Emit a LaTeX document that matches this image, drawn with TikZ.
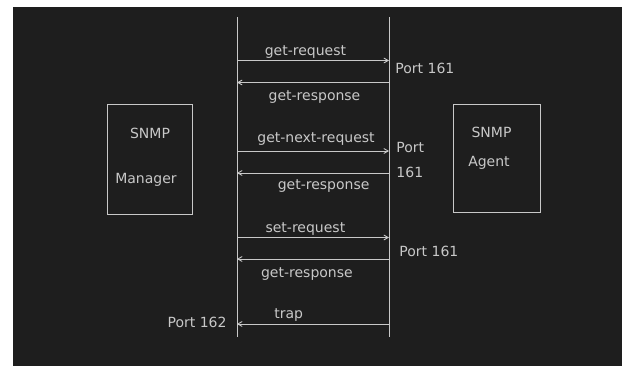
\documentclass[tikz,border=0pt]{standalone}
\usepackage{fontspec}
\setmainfont{DejaVu Sans}
\usetikzlibrary{arrows}
\definecolor{board}{HTML}{1E1E1E}
\definecolor{chalk}{HTML}{C8C8C8}

\begin{document}
\begin{tikzpicture}[x=1pt,y=-1pt,>=angle 60,line width=0.9pt,
  box/.style={draw=chalk,minimum width=85pt,minimum height=110pt},
  hand/.style={text=chalk,font=\fontsize{14}{25}\selectfont,inner sep=2pt},
  msg/.style={draw=chalk,->}]

  \useasboundingbox (0,0) rectangle (622,366);
  \fill[white] (0,0) rectangle (622,366);
  \fill[board] (13,7) rectangle (622,366);

  % the two ends
  \node[box] (mgr) at (150,159.5) {};
  \node[box,minimum width=87pt,minimum height=108pt] (agt) at (496.5,158) {};
  \node[hand] (mgrt) at (150,133) {SNMP};
  \node[hand] (mgrb) at (146,180) {Manager};
  \node[hand] (agtt) at (491.5,132) {SNMP};
  \node[hand] (agtb) at (489,163) {Agent};

  % lifelines
  \coordinate (mtop) at (237,17);
  \coordinate (mbot) at (237,337);
  \coordinate (atop) at (389,17);
  \coordinate (abot) at (389,337);
  \draw[chalk] (mtop) -- (mbot);
  \draw[chalk] (atop) -- (abot);

  \coordinate (m1) at (237,60.5);  \coordinate (a1) at (389,60.5);
  \coordinate (m2) at (237,82.5);  \coordinate (a2) at (389,82.5);
  \coordinate (m3) at (237,151);   \coordinate (a3) at (389,151);
  \coordinate (m4) at (237,173);   \coordinate (a4) at (389,173);
  \coordinate (m5) at (237,237.5); \coordinate (a5) at (389,237.5);
  \coordinate (m6) at (237,259);   \coordinate (a6) at (389,259);
  \coordinate (m7) at (237,324);   \coordinate (a7) at (389,324);

  \path[every edge/.style=msg,every node/.style=hand]
    (m1) edge node[above,pos=.45] {get-request} (a1)
    (a2) edge node[below=6pt,pos=.49] {get-response} (m2)
    (m3) edge node[above=3pt,pos=.52] {get-next-request} (a3)
    (a4) edge node[below=4pt,pos=.43] {get-response} (m4)
    (m5) edge node[above,pos=.45] {set-request} (a5)
    (a6) edge node[below=6pt,pos=.54] {get-response} (m6)
    (a7) edge node[above,pos=.66] {trap} (m7);

  % ports
  \node[hand,anchor=west] (p1) at (393,68) {Port 161};
  \node[hand,anchor=west,align=left] (p2) at (394,160) {Port\\161};
  \node[hand,anchor=west] (p3) at (397,251) {Port 161};
  \node[hand,anchor=east] (p4) at (229,322) {Port 162};
\end{tikzpicture}
\end{document}
